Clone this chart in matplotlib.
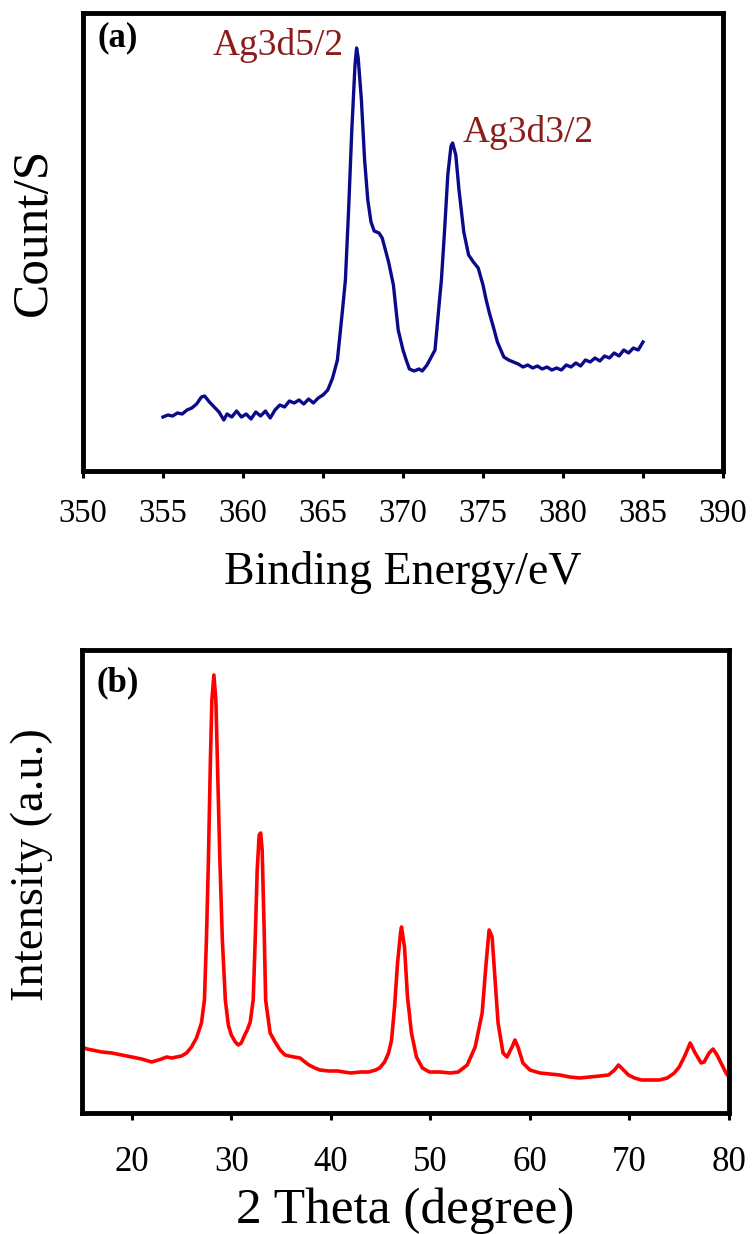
"""
XPS Ag3d spectrum (a) and XRD pattern (b)
"""

import matplotlib
matplotlib.use('Agg')
import matplotlib.pyplot as plt

plt.rcParams['font.family'] = ['Liberation Serif', 'DejaVu Serif']

# (a) XPS - binding energy (eV) and counts (a.u.)
xps_energy = [355.0, 355.3, 355.6, 355.9, 356.2, 356.5, 356.8, 357.1, 357.4, 357.6,
              357.9, 358.2, 358.5, 358.8, 359.0, 359.3, 359.6, 359.9, 360.2, 360.5,
              360.8, 361.1, 361.4, 361.7, 362.0, 362.3, 362.6, 362.9, 363.2, 363.5,
              363.8, 364.1, 364.4, 364.7, 365.0, 365.3, 365.6, 365.9, 366.2, 366.4,
              366.6, 366.8, 367.0, 367.1, 367.2, 367.4, 367.6, 367.8, 368.0, 368.2,
              368.5, 368.7, 368.9, 369.1, 369.4, 369.7, 370.0, 370.2, 370.4, 370.7,
              371.0, 371.2, 371.5, 371.8, 372.0, 372.3, 372.4, 372.6, 372.8, 373.0,
              373.1, 373.3, 373.5, 373.8, 374.1, 374.4, 374.7, 375.0, 375.2, 375.4,
              375.7, 375.9, 376.3, 376.6, 376.9, 377.2, 377.5, 377.8, 378.1, 378.4,
              378.7, 379.0, 379.3, 379.6, 379.9, 380.2, 380.5, 380.8, 381.1, 381.4,
              381.7, 382.0, 382.3, 382.6, 382.9, 383.2, 383.5, 383.8, 384.1, 384.4,
              384.7, 385.0]
xps_counts = [54, 56, 55, 58, 57, 61, 63, 67, 74, 75,
              69, 64, 59, 51, 57, 54, 60, 54, 57, 52,
              59, 55, 60, 53, 61, 66, 64, 70, 68, 71,
              67, 72, 68, 73, 76, 81, 93, 111, 158, 191,
              261, 341, 406, 423, 413, 371, 311, 271, 249, 240,
              238, 233, 221, 209, 186, 141, 121, 111, 102, 100,
              102, 100, 106, 115, 121, 174, 191, 241, 296, 325,
              328, 316, 281, 239, 216, 209, 203, 186, 171, 158,
              141, 129, 114, 111, 109, 107, 104, 106, 103, 105,
              102, 104, 101, 103, 101, 106, 104, 108, 105, 111,
              109, 113, 110, 115, 113, 118, 115, 121, 118, 123,
              121, 129]

# (b) XRD - 2 theta (degree) and intensity (a.u.)
xrd_theta = [15.0, 15.5, 16.0, 17.0, 18.0, 19.0, 20.0, 21.0, 22.0, 23.0,
             23.5, 24.0, 25.0, 25.5, 26.0, 26.5, 27.0, 27.3, 27.5, 27.7,
             27.9, 28.05, 28.25, 28.45, 28.6, 28.85, 29.1, 29.4, 29.7, 30.0,
             30.4, 30.7, 31.0, 31.3, 31.6, 31.9, 32.2, 32.4, 32.6, 32.8,
             32.95, 33.1, 33.3, 33.45, 33.9, 34.4, 34.9, 35.4, 35.8, 36.3,
             36.9, 37.4, 37.8, 38.4, 38.9, 39.8, 40.7, 41.3, 42.0, 43.0,
             43.8, 44.5, 44.9, 45.4, 45.8, 46.1, 46.4, 46.7, 47.0, 47.1,
             47.4, 47.7, 48.1, 48.6, 49.2, 49.9, 51.0, 52.0, 52.8, 53.7,
             54.5, 55.2, 55.6, 55.9, 56.2, 56.5, 56.8, 57.3, 57.7, 58.2,
             58.5, 58.8, 59.3, 60.0, 61.0, 62.0, 63.0, 64.0, 65.0, 66.0,
             67.0, 67.9, 68.5, 68.9, 69.4, 69.9, 70.5, 71.2, 72.0, 73.0,
             73.8, 74.5, 75.0, 75.6, 76.1, 76.6, 77.2, 77.5, 78.0, 78.4,
             78.8, 79.3, 79.7, 80.0]
xrd_intensity = [66, 64, 63, 61, 60, 58, 56, 54, 51, 54,
                 56, 55, 57, 60, 66, 75, 90, 113, 173, 253,
                 353, 413, 438, 413, 353, 253, 173, 113, 88, 78,
                 71, 68, 70, 77, 83, 91, 113, 173, 243, 278,
                 280, 263, 183, 113, 80, 71, 63, 58, 57, 56,
                 55, 51, 48, 45, 43, 42, 42, 41, 40, 41,
                 41, 43, 45, 51, 60, 73, 106, 150, 180, 186,
                 166, 116, 80, 56, 45, 41, 41, 40, 41, 48,
                 66, 100, 150, 183, 176, 133, 90, 60, 56, 66,
                 73, 66, 50, 43, 40, 39, 38, 36, 35, 36,
                 37, 38, 43, 48, 43, 38, 35, 33, 33, 33,
                 35, 40, 46, 58, 70, 60, 50, 51, 60, 64,
                 58, 48, 40, 36]

xps_ticks = [350, 355, 360, 365, 370, 375, 380, 385, 390]
xrd_ticks = [20, 30, 40, 50, 60, 70, 80]

W, H = 752, 1234
fig = plt.figure(figsize=(W / 100, H / 100), dpi=100)

ax1 = fig.add_axes([83 / W, 1 - 471 / H, 640 / W, 458 / H])
ax2 = fig.add_axes([82 / W, 1 - 1113 / H, 647 / W, 463 / H])


def style_axis(ax, size, pad):
    for side in ax.spines.values():
        side.set_linewidth(3.5)
    ax.tick_params(axis='x', direction='out', length=5, width=2.2,
                   labelsize=size, pad=pad, top=False)
    ax.tick_params(axis='y', left=False, right=False, labelleft=False)


# Panel (a)
ax1.plot(xps_energy, xps_counts, color='#0a0a8a', lw=2.4)
ax1.set_xlim(350, 390)
ax1.set_ylim(0, 458)
ax1.set_xticks(xps_ticks)
style_axis(ax1, 23.5, 15)
ax1.set_xlabel('Binding Energy/eV', fontsize=33, va='center')
ax1.xaxis.set_label_coords(0.5, -0.222)
ax1.set_ylabel('Count/S', fontsize=37, va='center')
ax1.yaxis.set_label_coords(-0.077, 0.522)
ax1.text(0.022, 0.928, '(a)', transform=ax1.transAxes, fontsize=25,
         fontweight='bold', ha='left', va='baseline')
ax1.text(358.1, 416, 'Ag3d5/2', color='#8b1c1c', fontsize=27,
         ha='left', va='baseline')
ax1.text(373.7, 329, 'Ag3d3/2', color='#8b1c1c', fontsize=27,
         ha='left', va='baseline')

# Panel (b)
ax2.plot(xrd_theta, xrd_intensity, color='#ff0000', lw=2.6)
ax2.set_xlim(15, 80)
ax2.set_ylim(0, 463)
ax2.set_xticks(xrd_ticks)
style_axis(ax2, 25, 19)
ax2.set_xlabel('2 Theta (degree)', fontsize=37, va='center')
ax2.xaxis.set_label_coords(0.5, -0.212)
ax2.set_ylabel('Intensity (a.u.)', fontsize=33.5, va='center')
ax2.yaxis.set_label_coords(-0.077, 0.536)
ax2.text(0.023, 0.911, '(b)', transform=ax2.transAxes, fontsize=25,
         fontweight='bold', ha='left', va='baseline')

fig.savefig('out.png', dpi=100)
